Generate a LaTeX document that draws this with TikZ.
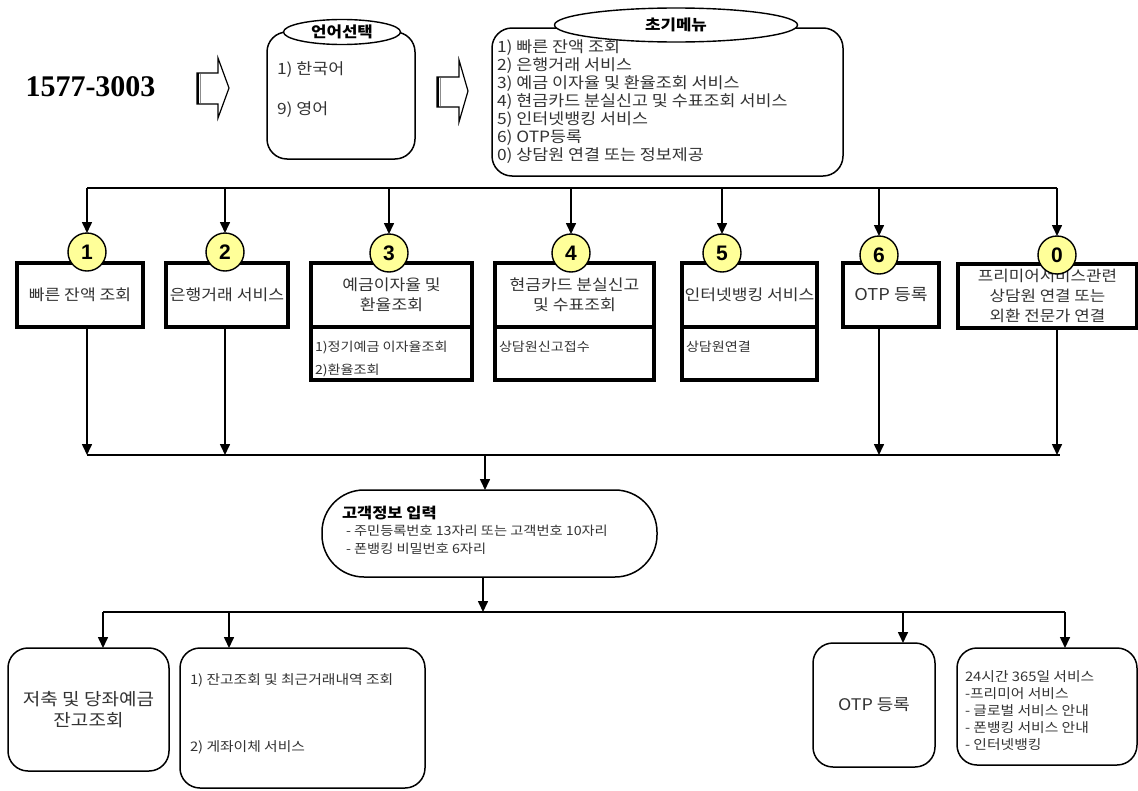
\documentclass[tikz,border=0pt]{standalone}
\usepackage{fontspec}
\usetikzlibrary{arrows.meta,shapes.geometric}
\newfontfamily\kr{Noto Sans CJK KR}[FakeStretch=1.12]
\newfontfamily\tnr{Liberation Serif}
\newfontfamily\ars{Liberation Sans}
\definecolor{cyel}{HTML}{FFFF99}
\definecolor{txt}{HTML}{333333}
\tikzset{
 every node/.style={inner sep=0pt, outer sep=0pt},
 conn/.style={line width=1.6pt, -{Triangle[length=11pt,width=10pt]}},
 busline/.style={line width=1.6pt},
 sqbox/.style={draw, line width=3.2pt, minimum height=64pt, text=txt, font=\kr\fontsize{15.3}{20}\selectfont, align=center},
 lowbox/.style={draw, line width=3.2pt, minimum height=53pt},
 rbox/.style={draw, line width=1.5pt, rounded corners=20pt},
 numc/.style={circle, draw, line width=1.4pt, fill=cyel, minimum size=38pt, font=\ars\bfseries\fontsize{21}{21}\selectfont},
 lab/.style={ellipse, draw, line width=1.4pt, fill=white, font=\kr\bfseries\fontsize{15}{17}\selectfont},
 ktxt/.style={text=txt, font=\kr\fontsize{15.5}{18}\selectfont, align=left},
 stxt/.style={text=txt, font=\kr\fontsize{12.6}{17}\selectfont, align=left},
 blockarrow/.style={draw, line width=1.2pt, fill=white},
}
\begin{document}
\begin{tikzpicture}[x=1pt,y=-1pt]
\useasboundingbox (0,0) rectangle (1138,790);
\fill[white] (0,0) rectangle (1138,790);

% phone number
\node[font=\tnr\bfseries\fontsize{30}{32}\selectfont] (num) at (90.5,87) {1577-3003};

% block arrows
\draw[blockarrow] (197,73) -- (218,73) -- (218,58) -- (229,88) -- (218,118) -- (218,104) -- (197,104) -- cycle;
\draw[line width=2.4pt] (198.2,73) -- (198.2,104);
\draw[line width=1.2pt, black!45] (200.8,74) -- (200.8,103);
\draw[blockarrow] (437,77) -- (459,77) -- (459,60) -- (468,91) -- (459,122) -- (459,107) -- (437,107) -- cycle;
\draw[line width=2.4pt] (438.2,77) -- (438.2,107);
\draw[line width=1.2pt, black!45] (440.8,78) -- (440.8,106);

% language box
\node[rbox, minimum width=148pt, minimum height=127pt] (lang) at (341,95.5) {};
\node[lab, minimum width=117pt, minimum height=25pt] (langt) at (342,32) {언어선택};
\node[ktxt, anchor=west] (l1) at (277,70) {1) 한국어};
\node[ktxt, anchor=west] (l2) at (277,110) {9) 영어};

% menu box
\node[rbox, minimum width=351pt, minimum height=148pt] (menu) at (667.5,102) {};
\node[lab, minimum width=243pt, minimum height=34pt] (menut) at (676,25) {초기메뉴};
\node[ktxt, anchor=north west] (menutext) at (497,40) {1) 빠른 잔액 조회\\2) 은행거래 서비스\\3) 예금 이자율 및 환율조회 서비스\\4) 현금카드 분실신고 및 수표조회 서비스\\5) 인터넷뱅킹 서비스\\6) OTP등록\\0) 상담원 연결 또는 정보제공};

% service boxes
\node[sqbox, minimum width=126pt] (b1) at (80,295) {빠른 잔액 조회};
\node[sqbox, minimum width=122pt] (b2) at (227,295) {은행거래 서비스};
\node[sqbox, minimum width=161pt] (b3) at (391.5,295) {예금이자율 및\\환율조회};
\node[sqbox, minimum width=159pt] (b4) at (574.5,295) {현금카드 분실신고\\및 수표조회};
\node[sqbox, minimum width=135pt] (b5) at (749.5,295) {인터넷뱅킹 서비스};
\node[sqbox, minimum width=96pt, font=\kr\fontsize{16.3}{20}\selectfont] (b6) at (891,295) {OTP 등록};
\node[sqbox, minimum width=179pt, font=\kr\fontsize{15}{20}\selectfont] (b0) at (1047.5,296) {프리미어서비스관련\\상담원 연결 또는\\ 외환 전문가 연결};

\node[lowbox, minimum width=161pt] (b3l) at (391.5,353.5) {};
\node[lowbox, minimum width=159pt] (b4l) at (574.5,353.5) {};
\node[lowbox, minimum width=135pt] (b5l) at (749.5,353.5) {};
\node[stxt, anchor=west] (b3a) at (315,348) {1)정기예금 이자율조회};
\node[stxt, anchor=west] (b3b) at (315,371) {2)환율조회};
\node[stxt, anchor=west] (b4a) at (499,347) {상담원신고접수};
\node[stxt, anchor=west] (b5a) at (686,347) {상담원연결};

% number circles
\node[numc] (c1) at (87,252) {1};
\node[numc] (c2) at (225,252) {2};
\node[numc] (c3) at (389,253) {3};
\node[numc] (c4) at (571,253) {4};
\node[numc] (c5) at (722,253) {5};
\node[numc] (c6) at (879,255) {6};
\node[numc] (c0) at (1057,255) {0};

% top bus
\coordinate (tb) at (0,188);
\draw[busline] (c1 |- tb) -- (c0 |- tb);
\foreach \c in {c1,c2,c3,c4,c5,c6,c0} {
  \draw[conn] (\c |- tb) -- (\c.north);
}

% middle bus
\coordinate (mb) at (0,455);
\draw[busline] (c1 |- mb) -- (1060,455);
\draw[conn] (c1 |- b1.south) -- (c1 |- mb);
\draw[conn] (c2 |- b2.south) -- (c2 |- mb);
\draw[conn] (c6 |- b6.south) -- (c6 |- mb);
\draw[conn] (c0 |- b0.south) -- (c0 |- mb);

% customer info
\node[draw, line width=1.5pt, rounded corners=42pt, minimum width=335pt, minimum height=87pt] (cust) at (489.5,533.5) {};
\node[anchor=west, font=\kr\bfseries\fontsize{14.7}{17}\selectfont] (custt) at (342,513) {고객정보 입력};
\node[stxt, font=\kr\fontsize{12.7}{18}\selectfont, anchor=north west] (custx) at (346,525) {- 주민등록번호 13자리 또는 고객번호 10자리\\- 폰뱅킹 비밀번호 6자리};
\coordinate (mid) at (485,455);
\draw[conn] (mid) -- (mid |- cust.north);

% bottom bus
\coordinate (lb) at (483,612);
\draw[conn] (lb |- cust.south) -- (lb);
\coordinate (la) at (103,612);
\coordinate (lbb) at (229,612);
\coordinate (lc) at (903,612);
\coordinate (ld) at (1065,612);
\draw[busline] (la) -- (ld);

% bottom boxes
\node[rbox, minimum width=161pt, minimum height=123pt, font=\kr\fontsize{17}{21}\selectfont, text=txt, align=center] (bA) at (88.5,709.5) {저축 및 당좌예금\\잔고조회};
\node[rbox, minimum width=245pt, minimum height=140pt] (bB) at (302.5,718) {};
\node[rbox, minimum width=122pt, minimum height=124pt, font=\kr\fontsize{16}{20}\selectfont, text=txt] (bC) at (874,705) {OTP 등록};
\node[rbox, minimum width=180pt, minimum height=117pt] (bD) at (1047,706.5) {};
\node[stxt, font=\kr\fontsize{13.2}{17}\selectfont, anchor=west] (bB1) at (190,680) {1) 잔고조회 및 최근거래내역 조회};
\node[stxt, font=\kr\fontsize{13.2}{17}\selectfont, anchor=west] (bB2) at (190,747) {2) 게좌이체 서비스};
\node[stxt, font=\kr\fontsize{13.2}{16.8}\selectfont, anchor=north west] (bDt) at (965,671) {24시간 365일 서비스\\-프리미어 서비스\\- 글로벌 서비스 안내\\- 폰뱅킹 서비스 안내\\- 인터넷뱅킹};

\draw[conn] (la) -- (la |- bA.north);
\draw[conn] (lbb) -- (lbb |- bB.north);
\draw[conn] (lc) -- (lc |- bC.north);
\draw[conn] (ld) -- (ld |- bD.north);
\end{tikzpicture}
\end{document}
